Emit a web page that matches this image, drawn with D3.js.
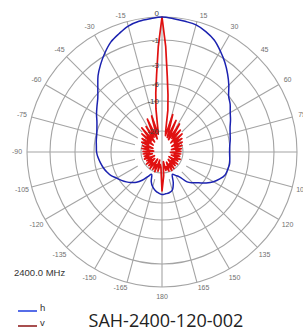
<!DOCTYPE html>
<html lang="en">
<head>
    <meta charset="UTF-8">
    <script src="https://cdn.jsdelivr.net/npm/d3@7"></script>
    <title>SAH-2400-120-002</title>
    <style>
        body { margin: 0; background: #fff; }
        svg { display: block; }
    </style>
</head>
<body>
    <div id="chart"></div>

    <script>
        // ring levels (dB) and their labels
        const ringDb = [0, -1, -3, -6, -10, -20];
        const ringLabels = ["0", "-1", "-3", "-6", "-10", "-20"];

        // angle labels every 15 degrees
        const angleTicks = [15, 30, 45, 60, 75, 90, 105, 120, 135, 150, 165, 180,
            -15, -30, -45, -60, -75, -90, -105, -120, -135, -150, -165];
        const angleLabels = ["15", "30", "45", "60", "75", "90", "105", "120", "135", "150", "165", "180",
            "-15", "-30", "-45", "-60", "-75", "-90", "-105", "-120", "-135", "-150", "-165"];

        // h pattern (blue)
        const hAngles = [-180, -175, -170, -165, -160, -155, -150, -145, -140, -135, -130, -125, -120,
            -115, -110, -105, -100, -95, -90, -85, -80, -75, -70, -65, -60, -55, -50, -45, -40, -35,
            -30, -25, -20, -15, -10, -5, 0, 5, 10, 15, 20, 25, 30, 35, 40, 45, 50, 55, 60, 65, 70, 75,
            80, 85, 90, 95, 100, 105, 110, 115, 120, 125, 130, 135, 140, 145, 150, 155, 160, 165, 170, 175];
        const hDb = [-12.8, -13.3, -14.0, -15.0, -16.5, -18.8, -17.5, -15.5, -13.8, -12.6, -11.5, -10.5, -9.7,
            -8.8, -8.2, -7.7, -7.3, -6.9, -6.6, -6.5, -6.3, -6.1, -5.8, -5.4, -4.8, -4.2, -3.5, -2.7, -2.0, -1.4,
            -0.9, -0.6, -0.4, -0.2, -0.1, -0.05, 0, -0.05, -0.1, -0.15, -0.3, -0.5, -0.8, -1.2, -1.8, -2.4, -3.0, -3.6, -4.3, -4.8, -5.3, -5.6,
            -5.8, -6.0, -6.1, -6.0, -5.9, -6.0, -6.2, -7.0, -8.0, -9.3, -11.0, -12.5, -14.0, -16.9, -18.0, -18.8, -16.0, -13.8, -13.2, -13.0];

        // v pattern (red)
        const vAngles = [-180, -176, -172, -168, -164, -160, -156, -152, -148, -144, -140, -136, -132, -128,
            -124, -120, -116, -112, -108, -104, -100, -96, -92, -88, -84, -80, -76, -72, -68, -64, -60,
            -56, -52, -48, -44, -40, -36, -32, -28, -24, -20, -16, -12,
            -10, -8, -6, -4, -2, 0, 2, 4, 6, 8, 10,
            12, 16, 20, 24, 28, 32, 36, 40, 44, 48, 52, 56, 60, 64, 68, 72, 76, 80, 84, 88, 92, 96,
            100, 104, 108, 112, 116, 120, 124, 128, 132, 136, 140, 144, 148, 152, 156, 160, 164, 168, 172, 176];
        const vDb = [-14, -24, -26, -21, -29, -20, -25, -21, -29, -20.5, -25, -21.5, -28, -21,
            -26, -22.5, -29, -21.5, -25, -22, -28, -21.5, -26, -21.5, -29, -20.5, -25, -20.5, -28, -19.5, -24,
            -19, -27, -18, -24, -16.5, -26, -17, -23, -15, -25, -14.5, -22,
            -19, -12.5, -8, -4.5, -1.5, 0, -1.5, -4.8, -8.5, -13, -20,
            -23, -14, -24, -15.5, -25, -16, -23, -17.5, -26, -18, -24, -19, -27, -19.5, -25, -20, -28, -21, -25, -21.5, -29, -21.5,
            -26, -22, -28, -21, -25, -22, -29, -21, -26, -21.5, -28, -20.5, -25, -20, -27, -20.5, -24, -21.5, -28, -19];

        const freqLabel = "2400.0 MHz";
        const seriesNames = ["h", "v"];
        const title = "SAH-2400-120-002";

        /*------------------- setup --------------------*/
        const width = 303, height = 329;
        const cx = 162, cy = 152;

        const svg = d3.select("#chart").append("svg")
            .attr("width", width)
            .attr("height", height);

        // non-linear dB rings
        const rScale = d3.scaleLinear()
            .domain([-35, -20, -10, -6, -3, -1, 0])
            .range([0, 21, 51, 68, 87, 112, 135])
            .clamp(true);
        const outerR = rScale(0);

        const rad = a => a * Math.PI / 180;

        const g = svg.append("g").attr("transform", `translate(${cx},${cy})`);
        const grid = g.append("g")
            .attr("fill", "none")
            .attr("stroke", "#a4a4a4")
            .attr("stroke-width", 1.1);

        // rings
        grid.selectAll("circle")
            .data(ringDb)
            .enter()
            .append("circle")
            .attr("r", d => rScale(d));

        // spokes every 15 deg, the main axes go through the centre
        const spokes = d3.range(0, 360, 15);
        grid.selectAll("line")
            .data(spokes)
            .enter()
            .append("line")
            .attr("x1", d => (d % 90 === 0 ? 0 : 28) * Math.sin(rad(d)))
            .attr("y1", d => -(d % 90 === 0 ? 0 : 28) * Math.cos(rad(d)))
            .attr("x2", d => outerR * Math.sin(rad(d)))
            .attr("y2", d => -outerR * Math.cos(rad(d)));

        // angle labels
        g.append("g")
            .selectAll("text")
            .data(angleTicks)
            .enter()
            .append("text")
            .attr("x", d => 145 * Math.sin(rad(d)) + (Math.abs(d) < 30 || Math.abs(d) > 150 ? 4 * Math.sign(d) * (d === 180 ? 0 : 1) : 0))
            .attr("y", d => -145 * Math.cos(rad(d)) + (Math.abs(d) < 30 ? 4 : (Math.abs(d) > 150 && d !== 180 ? -5 : 0)))
            .attr("dy", "0.35em")
            .attr("text-anchor", "middle")
            .attr("font-family", "Liberation Sans, Arial, sans-serif")
            .attr("font-size", 7)
            .attr("fill", "#707070")
            .text((d, i) => angleLabels[i]);

        // patterns
        const hLine = d3.lineRadial()
            .angle((d, i) => rad(hAngles[i]))
            .radius(d => rScale(d))
            .curve(d3.curveCatmullRomClosed);

        const vLine = d3.lineRadial()
            .angle((d, i) => rad(vAngles[i]))
            .radius(d => rScale(d))
            .curve(d3.curveLinearClosed);

        g.append("path")
            .attr("d", vLine(vDb))
            .attr("fill", "none")
            .attr("stroke", "#e01010")
            .attr("stroke-width", 1.7)
            .attr("stroke-linejoin", "round");

        g.append("path")
            .attr("d", hLine(hDb))
            .attr("fill", "none")
            .attr("stroke", "#1b22b0")
            .attr("stroke-width", 1.5);

        // ring labels along the vertical axis
        g.append("g")
            .selectAll("text")
            .data(ringDb)
            .enter()
            .append("text")
            .attr("x", -3)
            .attr("y", d => -rScale(d) - (d === 0 ? 4 : 0))
            .attr("dy", "0.35em")
            .attr("text-anchor", "end")
            .attr("font-family", "Liberation Sans, Arial, sans-serif")
            .attr("font-size", 8)
            .attr("fill", "#444")
            .text((d, i) => ringLabels[i]);

        // legend
        const legend = svg.append("g")
            .attr("font-family", "Liberation Sans, Arial, sans-serif")
            .attr("font-size", 9.5)
            .attr("fill", "#333");

        legend.append("text")
            .attr("x", 14)
            .attr("y", 276)
            .text(freqLabel);

        const legendColors = ["#1e3ce0", "#8b1414"];
        seriesNames.forEach((name, i) => {
            const y = 311 + i * 15;
            legend.append("line")
                .attr("x1", 18).attr("x2", 37)
                .attr("y1", y).attr("y2", y)
                .attr("stroke", legendColors[i])
                .attr("stroke-width", 1.5);
            legend.append("text")
                .attr("x", 40)
                .attr("y", y)
                .text(name);
        });

        // title
        svg.append("text")
            .attr("x", 166)
            .attr("y", 327)
            .attr("text-anchor", "middle")
            .attr("font-family", "Open Sans, sans-serif")
            .attr("font-size", 18)
            .attr("fill", "#222")
            .text(title);
    </script>
</body>
</html>
